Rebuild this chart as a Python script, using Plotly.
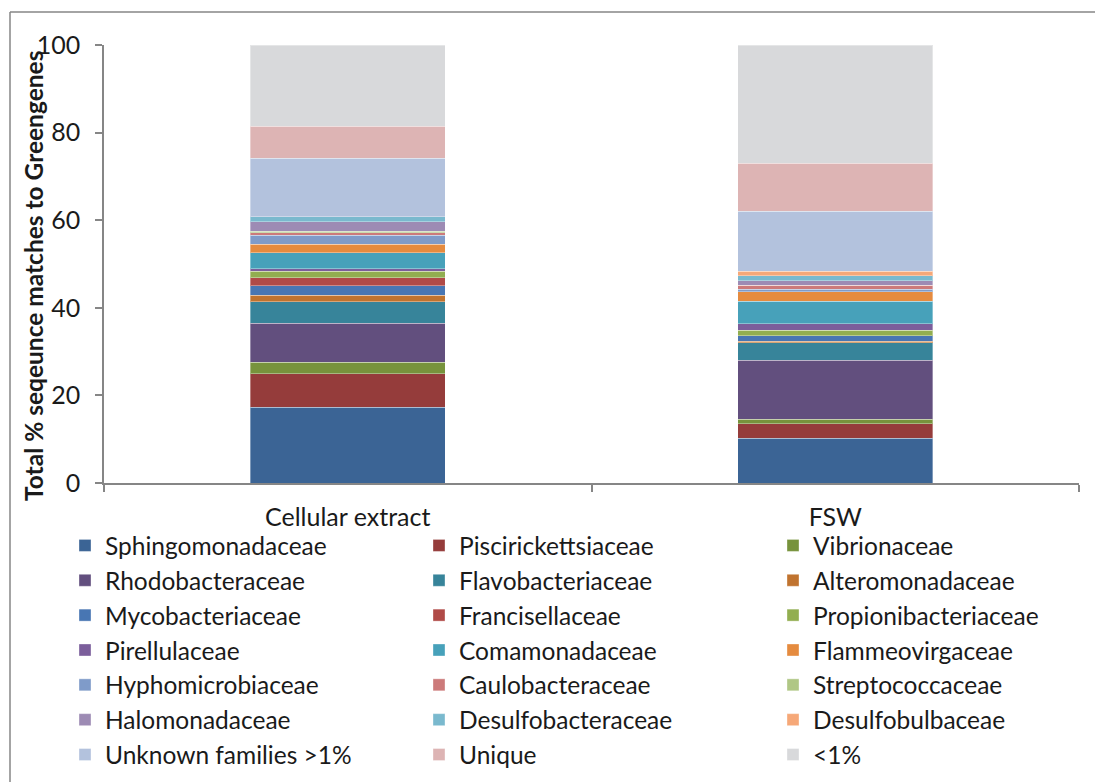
import plotly.graph_objects as go

# Samples on the x axis
samples = ["Cellular extract", "FSW"]

# Families, stacked bottom to top
families = [
    "Sphingomonadaceae", "Piscirickettsiaceae", "Vibrionaceae",
    "Rhodobacteraceae", "Flavobacteriaceae", "Alteromonadaceae",
    "Mycobacteriaceae", "Francisellaceae", "Propionibacteriaceae",
    "Pirellulaceae", "Comamonadaceae", "Flammeovirgaceae",
    "Hyphomicrobiaceae", "Caulobacteraceae", "Streptococcaceae",
    "Halomonadaceae", "Desulfobacteraceae", "Desulfobulbaceae",
    "Unknown families >1%", "Unique", "<1%",
]

# Percent of sequences per family: [Cellular extract, FSW]
sphingomonadaceae = [17.3, 10.2]
piscirickettsiaceae = [7.7, 3.3]
vibrionaceae = [2.6, 1.0]
rhodobacteraceae = [8.9, 13.5]
flavobacteriaceae = [4.9, 4.0]
alteromonadaceae = [1.5, 0.4]
mycobacteriaceae = [2.1, 1.2]
francisellaceae = [1.9, 0.0]
propionibacteriaceae = [1.5, 1.3]
pirellulaceae = [0.5, 1.5]
comamonadaceae = [3.7, 5.1]
flammeovirgaceae = [1.9, 2.2]
hyphomicrobiaceae = [2.1, 0.5]
caulobacteraceae = [0.5, 0.9]
streptococcaceae = [0.4, 0.0]
halomonadaceae = [2.2, 1.1]
desulfobacteraceae = [1.1, 1.1]
desulfobulbaceae = [0.0, 1.1]
unknown_families = [13.3, 13.6]
unique = [7.4, 11.0]
below_one_percent = [18.5, 27.0]

series = [
    sphingomonadaceae, piscirickettsiaceae, vibrionaceae,
    rhodobacteraceae, flavobacteriaceae, alteromonadaceae,
    mycobacteriaceae, francisellaceae, propionibacteriaceae,
    pirellulaceae, comamonadaceae, flammeovirgaceae,
    hyphomicrobiaceae, caulobacteraceae, streptococcaceae,
    halomonadaceae, desulfobacteraceae, desulfobulbaceae,
    unknown_families, unique, below_one_percent,
]

colors = [
    "#3B6495", "#953C3B", "#77933C",
    "#624F7E", "#37849A", "#C0732F",
    "#4876B3", "#B04A47", "#92AE50",
    "#7B5E9B", "#47A1BA", "#E58B3F",
    "#7F9BC9", "#CC7A7A", "#B0C785",
    "#9D8BB4", "#7AB9CE", "#F6A878",
    "#B3C2DD", "#DDB4B4", "#D8D9DB",
]

FONT = "Lato, Carlito, Calibri, sans-serif"
TEXT = "#1a1a1a"
AXIS_GRAY = "#868686"

fig = go.Figure()
for name, vals, col in zip(families, series, colors):
    fig.add_trace(go.Bar(
        x=samples, y=vals, name=name,
        marker=dict(color=col, line=dict(color="rgba(255,255,255,0.35)", width=1)),
        width=0.4,
    ))

W, H = 1095, 782
L, R, T, B = 104, 16, 45, 299
pw, ph = W - L - R, H - T - B

def px_x(p):
    return (p - L) / pw

def px_y(p):
    return (H - B - p) / ph

# Frame around the chart area: left and top edges only
frame = [
    dict(type="line", xref="paper", yref="paper",
         x0=px_x(10), x1=px_x(10), y0=px_y(782), y1=px_y(12),
         line=dict(color=AXIS_GRAY, width=1.5), layer="below"),
    dict(type="line", xref="paper", yref="paper",
         x0=px_x(10), x1=px_x(1095), y0=px_y(12), y1=px_y(12),
         line=dict(color=AXIS_GRAY, width=1.5), layer="below"),
]

fig.update_layout(
    width=W, height=H,
    margin=dict(l=L, r=R, t=T, b=B, pad=0, autoexpand=False),
    barmode="stack",
    paper_bgcolor="white",
    plot_bgcolor="white",
    font=dict(family=FONT, size=25, color=TEXT),
    showlegend=True,
    legend=dict(
        orientation="h",
        x=px_x(65), xanchor="left",
        y=px_y(523), yanchor="top",
        entrywidth=309, entrywidthmode="pixels",
        traceorder="normal",
        font=dict(family=FONT, size=24.5, color=TEXT),
        bgcolor="rgba(0,0,0,0)",
    ),
    xaxis=dict(
        range=[-0.5, 1.5],
        showline=True, linecolor=AXIS_GRAY, linewidth=1.5,
        ticks="outside", tickson="boundaries", ticklen=7,
        tickcolor=AXIS_GRAY, tickwidth=1.5,
        tickfont=dict(family=FONT, size=25, color=TEXT),
        ticklabelstandoff=11,
        showgrid=False, zeroline=False,
    ),
    yaxis=dict(
        range=[0, 100], tickvals=[0, 20, 40, 60, 80, 100],
        showline=True, linecolor=AXIS_GRAY, linewidth=1.5,
        ticks="outside", ticklen=7, tickcolor=AXIS_GRAY, tickwidth=1.5,
        tickfont=dict(family=FONT, size=25, color=TEXT),
        ticklabelstandoff=10,
        showgrid=False, zeroline=False,
    ),
    annotations=[dict(
        text="<b>Total % seqeunce matches to Greengenes</b>",
        xref="paper", yref="paper",
        x=px_x(33), y=px_y(276), xanchor="center", yanchor="middle",
        textangle=-90, showarrow=False,
        font=dict(family=FONT, size=24.5, color=TEXT),
    )],
    shapes=frame,
)

fig.write_html("out.html")
